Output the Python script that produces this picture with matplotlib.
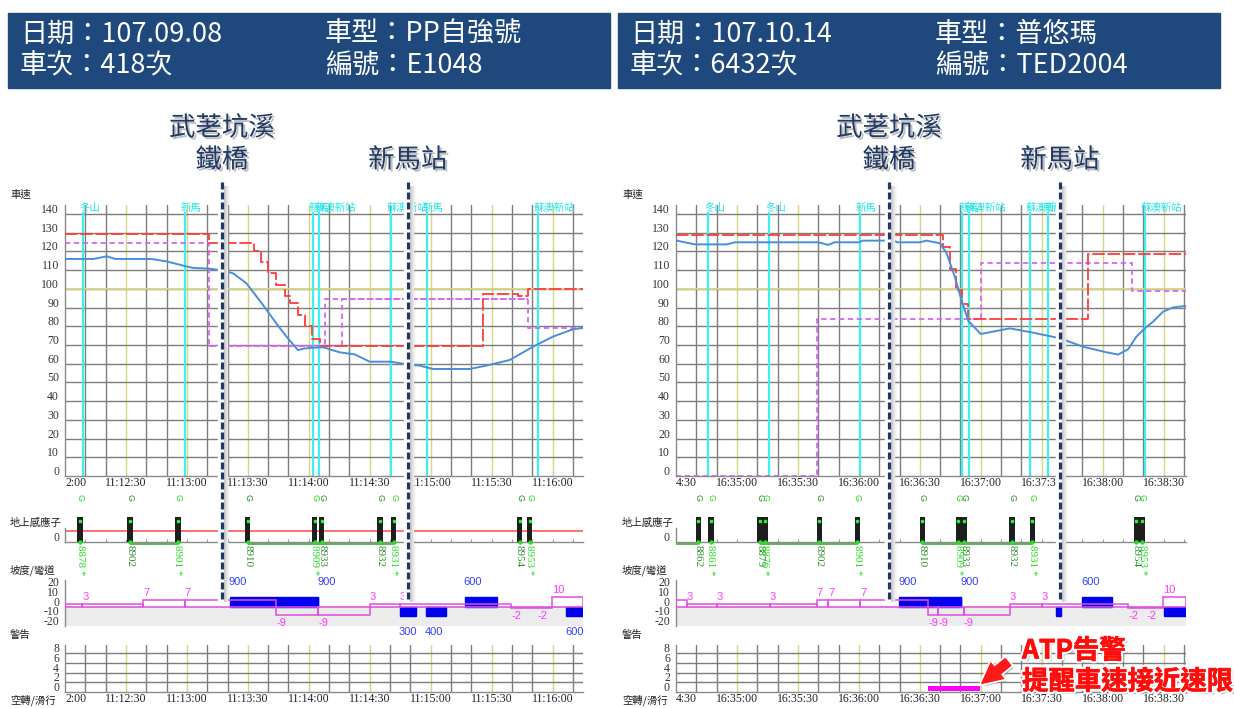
import matplotlib
matplotlib.use("Agg")
import matplotlib.pyplot as plt
import matplotlib.patheffects as pe
from matplotlib.patches import Rectangle
from matplotlib.transforms import ScaledTranslation

plt.rcParams["font.family"] = ["Noto Sans CJK TC", "DejaVu Sans"]
plt.rcParams["lines.scale_dashes"] = False

# ---------------- left record : 107.09.08 / 418次 ----------------
head_L = ["日期：107.09.08", "車次：418次", "車型：PP自強號", "編號：E1048"]
clock_L = ["2:00", "11:12:30", "11:13:00", "11:13:30", "11:14:00",
           "11:14:30", "11:15:00", "11:15:30", "11:16:00"]
span_L = 255
speed_t_L = [0, 14, 20.6, 24.8, 42.6, 50, 59, 63, 71.3, 77, 82.8, 89.3, 97.5, 104,
             109, 114.7, 118, 125.4, 127.9, 130.3, 135.3, 142.6, 150, 160, 169.7,
             174.6, 181.2, 199.2, 207.4, 218.9, 230.4, 240.2, 250, 254.6]
speed_v_L = [116, 116, 117.4, 116, 116, 114.7, 112.2, 111.2, 110.8, 110, 108.3, 103,
             91.4, 81.6, 74.5, 67.3, 68.2, 68.8, 68.6, 67.7, 66.1, 65, 61.1, 61.1,
             59.5, 59, 57.2, 57.2, 59, 62, 69.1, 74.5, 78.4, 79.1]
limit_t_L = [0, 70.8, 93, 96.7, 100.1, 104.1, 108.2, 110.7, 114.8, 118.1, 121.7,
             125.4, 205.8, 223, 227.8, 255]
limit_v_L = [129.5, 124.4, 120.3, 114.6, 108.3, 102.3, 96.2, 92.3, 86, 80.2, 73.2,
             69.5, 97.3, 96.2, 99.8, 99.8]
target_t_L = [0, 70.8, 127.9, 227.9, 255]
target_v_L = [124.4, 69.5, 94.4, 79.1, 79.1]
target2_t_L = [70.8, 136.6, 227.9]
target2_v_L = [69.5, 94.4, 94.4]
ref_L = 100
stn_t_L = [8.9, 59, 122, 125, 160.4, 178.1, 232.7]
stn_n_L = ["冬山", "新馬", "新馬", "蘇澳新站", "蘇澳新站", "新馬", "蘇澳新站"]
post_t_L = [7.4, 32, 55.6, 90, 123, 126.4, 155, 161.8, 223.8, 228.7]
post_n_L = ["8878 *", "8902", "8901 *", "8910", "8909 *", "8933", "8932",
            "8931 *", "8954", "8953 *"]
link_a_L = [32, 90]
link_b_L = [55.6, 161.8]
post_red_L = 11.3
grade_t_L = [0, 8.5, 38.5, 59, 104.1, 124.6, 150, 164.8, 219.7, 232.8, 239.7]
grade_v_L = [3, 3, 7, 7, -9, -9, 3, 3, -2, -2, 10]
curve_a_L = [81.2, 124.6, 164.8, 177.6, 196.8, 246.8]
curve_b_L = [124.6, 124.6, 172.7, 187.4, 212.6, 255]
curve_r_L = ["900", "900", "300", "400", "600", "600"]
curve_s_L = [1, 1, -1, -1, 1, -1]
warn_a_L = []
warn_b_L = []
mark_t_L = [77.2, 168.7]

# ---------------- right record : 107.10.14 / 6432次 ----------------
head_R = ["日期：107.10.14", "車次：6432次", "車型：普悠瑪", "編號：TED2004"]
clock_R = ["4:30", "16:35:00", "16:35:30", "16:36:00", "16:36:30",
           "16:37:00", "16:37:30", "16:38:00", "16:38:30"]
span_R = 251
speed_t_R = [0.3, 9.3, 24.9, 29, 70, 74.9, 78, 89.7, 92, 107, 109, 120, 123.3,
             129.9, 133.2, 137.2, 140.5, 143.8, 150, 164.3, 175.8, 189, 200.3,
             211.9, 217.6, 222.5, 226.6, 230.7, 234.8, 239.7, 244.6, 251]
speed_v_R = [125.8, 123.8, 123.8, 124.9, 124.9, 123.5, 124.9, 124.9, 125.8, 125.8,
             124.9, 124.9, 125.8, 124.4, 119, 106.5, 94.1, 83, 75.9, 78.9, 76.6,
             73.6, 69.1, 66.1, 64.9, 67.7, 74.5, 78.9, 82.5, 87.8, 90.1, 90.9]
limit_t_R = [0, 131.5, 134.8, 137.7, 141, 143.8, 202.8, 251]
limit_v_R = [128.8, 122.6, 110.6, 99.4, 91.9, 83.9, 118.7, 118.7]
target_t_R = [0, 69.2, 150, 224.4, 251]
target_v_R = [0, 83.9, 114, 98.9, 98.9]
target2_t_R = []
target2_v_R = []
ref_R = 100
stn_t_R = [15.9, 45.9, 90.5, 140.8, 144.1, 174.1, 183.1, 230.7]
stn_n_R = ["冬山", "冬山", "新馬", "新馬", "蘇澳新站", "蘇澳新站", "新馬", "蘇澳新站"]
post_t_R = [11, 17.2, 41.3, 43.8, 70.5, 89.2, 121.2, 138.9, 141.7, 165.4, 175.3,
            226.6, 229.4]
post_n_R = ["8862", "8861 *", "8879", "8876 *", "8902", "8901 *", "8910", "8909 *",
            "8933", "8932", "8931 *", "8954", "8953 *"]
link_a_R = [0, 41.3, 121.2]
link_b_R = [11, 89.2, 175.3]
post_red_R = None
grade_t_R = [0, 5.2, 20, 46.2, 69.2, 74.9, 90.8, 124.1, 129, 141.7, 164.3, 179.9,
             222.5, 231.5, 239.7]
grade_v_R = [7, 3, 3, 3, 7, 7, 7, -9, -9, -9, 3, 3, -2, -2, 10]
curve_a_R = [109.8, 140.5, 186.9, 200, 240]
curve_b_R = [140.5, 140.5, 189.7, 214.6, 251]
curve_r_R = ["900", "900", "", "600", ""]
curve_s_R = [1, 1, -1, 1, -1]
warn_a_R = [124]
warn_b_R = [149.5]
mark_t_R = [104.8, 188.9]

mark_txt = [["武荖坑溪", "鐵橋"], ["新馬站"]]
atp_txt = ["ATP告警", "提醒車速接近速限"]

W, H = 1234, 708
GRID = "#7d7d7d"
YEL = "#d8d680"
CYAN = "#3ff0f0"
SERIF = ["Liberation Serif", "DejaVu Serif"]
SANS = ["Liberation Sans", "DejaVu Sans"]
NAVY = "#1f3864"

fig = plt.figure(figsize=(W / 100, H / 100), dpi=100)
over = fig.add_axes([0, 0, 1, 1], zorder=20)
over.set_xlim(0, W)
over.set_ylim(H, 0)
over.axis("off")
over.patch.set_visible(False)


def shift(dx, dy):
    return ScaledTranslation(dx / 100, dy / 100, fig.dpi_scale_trans)


def px_axes(x0, y0, x1, y1):
    return fig.add_axes([x0 / W, 1 - y1 / H, (x1 - x0) / W, (y1 - y0) / H])


def frame(ax, left=True, bottom=True):
    for s in ["top", "right"]:
        ax.spines[s].set_visible(False)
    ax.spines["left"].set_visible(left)
    ax.spines["bottom"].set_visible(bottom)
    for s in ["left", "bottom"]:
        ax.spines[s].set_color("#8a8a8a")
        ax.spines[s].set_linewidth(1.0)
    ax.set_xticks([])
    ax.set_yticks([])


def vgrid(ax, span):
    for t in range(10, span + 1, 10):
        ax.axvline(t, color=YEL if t % 30 == 0 else GRID, lw=1.0, zorder=1)


def ylabels(ax, values):
    tr = ax.get_yaxis_transform() + shift(-6, 4)
    for v in values:
        ax.text(0, v, str(v), transform=tr, ha="right", va="center",
                fontsize=8.5, family=SERIF, color="#333333")


def xlabels(ax, labels):
    tr = ax.get_xaxis_transform() + shift(0, -7)
    for i, lab in enumerate(labels):
        ax.text(30 * i, 0, lab, transform=tr, ha="left" if i == 0 else "center",
                va="center", fontsize=8.5, family=SERIF, color="#222222")


def draw_panel(p, x0, x1, bx0, bx1, lx):
    span = p["span"]

    # header box
    over.add_patch(Rectangle((bx0, 13), bx1 - bx0, 75, color="#1f497d", zorder=1))
    for i, txt in enumerate(p["head"]):
        over.text(bx0 + 12 + 305 * (i // 2), 34 + 32 * (i % 2), txt, color="white",
                  fontsize=19.5, fontweight="light", va="center", ha="left",
                  zorder=2)

    # row titles
    for y, txt in [(195, "車速"), (523, "地上感應子"), (570, "坡度/彎道"),
                   (635, "警告"), (700, "空轉/滑行")]:
        over.text(lx, y, txt, fontsize=7.5, va="center", ha="left", color="#222222")

    # speed panel
    ax = px_axes(x0, 204.7, x1, 476)
    ax.set_xlim(0, span)
    ax.set_ylim(0, 145)
    frame(ax)
    vgrid(ax, span)
    for v in range(10, 150, 10):
        ax.axhline(v, color=GRID, lw=1.0, zorder=1)
    ax.axhline(p["ref"], color=YEL, lw=1.3, zorder=1.5)
    ax.vlines(p["stn_t"], 0, 141, color=CYAN, lw=1.6, zorder=2)
    for t, n in zip(p["stn_t"], p["stn_n"]):
        ax.text(t, 143.3, n, color="#24e4e4", fontsize=7.5, ha="left", va="center",
                transform=ax.transData + shift(-4, 0), clip_on=False, zorder=2)
    ax.step(p["target_t"], p["target_v"], where="post", color="#d766f5", lw=1.3,
            dashes=(3.8, 2.6), zorder=3)
    if p["target2_t"]:
        ax.step(p["target2_t"], p["target2_v"], where="post", color="#d766f5",
                lw=1.3, dashes=(3.8, 2.6), zorder=3)
    ax.step(p["limit_t"], p["limit_v"], where="post", color="#ff3c3c", lw=1.3,
            dashes=(9, 2), zorder=3.5)
    ax.plot(p["speed_t"], p["speed_v"], color="#4a8edb", lw=1.4, zorder=4)
    ylabels(ax, range(0, 141, 10))
    xlabels(ax, p["clock"])

    # ground transponders
    sx = px_axes(x0, 505, x1, 542)
    sx.set_xlim(0, span)
    sx.set_ylim(0, 37)
    frame(sx)
    sx.spines["left"].set_bounds(0, 14)
    sx.set_xticks(range(10, span + 1, 10))
    sx.tick_params(axis="x", direction="in", length=2.5, color="#999999",
                   labelbottom=False)
    if p["post_red"] is not None:
        sx.axhline(p["post_red"], color="#ff4a4a", lw=1.1, zorder=1)
    sx.hlines([-2.3] * len(p["link_a"]), p["link_a"], p["link_b"], color="#4fae45",
              lw=1.3, clip_on=False, zorder=2)
    sx.bar(p["post_t"], 25, width=2.6, color="#1e1e1e", zorder=3)
    sx.plot(p["post_t"], [21] * len(p["post_t"]), "s", color="#2cf02c", ms=2.0,
            zorder=4)
    sx.plot(p["post_t"], [0] * len(p["post_t"]), "o", color="#2cdc2c", ms=2.2,
            zorder=4, clip_on=False)
    for t, n in zip(p["post_t"], p["post_n"]):
        col = "#22dd22" if "*" in n else "#2a902a"
        sx.text(t, 45, "G", rotation=-90, color=col, fontsize=6.5, ha="center",
                va="center", clip_on=False, family=SANS)
        sx.text(t, -3, n, rotation=-90, color=col, fontsize=8, ha="center",
                va="top", clip_on=False, family=SERIF)
    ylabels(sx, [0])

    # gradient / curve panel
    gx = px_axes(x0, 580, x1, 626)
    gx.set_xlim(0, span)
    gx.set_ylim(-20.3, 27.6)
    frame(gx, bottom=False)
    gx.axhspan(-20.3, 0, color="#ececec", zorder=0)
    for a, b, r, s in zip(p["curve_a"], p["curve_b"], p["curve_r"], p["curve_s"]):
        gx.add_patch(Rectangle((a, 0), b - a, 10 * s, color="#0000ee", zorder=2))
        if r:
            y, dy = (1, -2) if s > 0 else (0, -6)
            gx.text(a, y, r, transform=gx.get_xaxis_transform() + shift(-1, dy),
                    ha="left", va="center", color="#3340ff", fontsize=8,
                    family=SANS, clip_on=False)
    ends = p["grade_t"][1:] + [span]
    for a, b, v in zip(p["grade_t"], ends, p["grade_v"]):
        gx.add_patch(Rectangle((a, 0), b - a, v, fill=False, edgecolor="#e04ee0",
                               lw=1.1, zorder=3))
        if a > 0:
            gx.annotate(str(v), (a, v), xytext=(0, 1.5 if v > 0 else -2),
                        textcoords="offset points", ha="left",
                        va="bottom" if v > 0 else "top", color="#ff3cff",
                        fontsize=8, family=SANS, annotation_clip=False)
    ylabels(gx, [20, 10, 0, -10, -20])

    # warning panel
    wx = px_axes(x0, 645, x1, 691.7)
    wx.set_xlim(0, span)
    wx.set_ylim(0, 9.73)
    frame(wx)
    vgrid(wx, span)
    for v in [2, 4, 6, 8]:
        wx.axhline(v, color=GRID, lw=1.0, zorder=1)
    for a, b in zip(p["warn_a"], p["warn_b"]):
        wx.bar(a, 1.1, width=b - a, bottom=0.15, align="edge", color="#ff00ff",
               zorder=5)
    ylabels(wx, [0, 2, 4, 6, 8])
    xlabels(wx, p["clock"])

    # bridge / station markers
    for t, lines in zip(p["mark_t"], mark_txt):
        x = ax.transData.transform((t, 0))[0]
        over.add_patch(Rectangle((x - 4, 188), 9, 412, color="white", zorder=3))
        for k, a in enumerate([0.30, 0.24, 0.18, 0.12, 0.07, 0.04]):
            over.plot([x + 2 + k, x + 2 + k], [186, 601], color="#555555",
                      alpha=a, lw=0.75, zorder=4)
        over.plot([x, x], [182, 600], color=NAVY, lw=2.3, dashes=(5, 2.2),
                  zorder=5)
        for k, txt in enumerate(reversed(lines)):
            over.text(x, 160 - 32 * k, txt, color=NAVY, fontsize=19, ha="center",
                      va="center", zorder=6,
                      path_effects=[pe.SimplePatchShadow(offset=(1.5, -1.5),
                                                         shadow_rgbFace="#888888",
                                                         alpha=0.55),
                                    pe.Normal()])
    return ax, wx


left = dict(head=head_L, clock=clock_L, span=span_L, speed_t=speed_t_L,
            speed_v=speed_v_L, limit_t=limit_t_L, limit_v=limit_v_L,
            target_t=target_t_L, target_v=target_v_L, target2_t=target2_t_L,
            target2_v=target2_v_L, ref=ref_L, stn_t=stn_t_L, stn_n=stn_n_L,
            post_t=post_t_L, post_n=post_n_L, link_a=link_a_L, link_b=link_b_L,
            post_red=post_red_L, grade_t=grade_t_L, grade_v=grade_v_L,
            curve_a=curve_a_L, curve_b=curve_b_L, curve_r=curve_r_L,
            curve_s=curve_s_L, warn_a=warn_a_L, warn_b=warn_b_L, mark_t=mark_t_L)
right = dict(head=head_R, clock=clock_R, span=span_R, speed_t=speed_t_R,
             speed_v=speed_v_R, limit_t=limit_t_R, limit_v=limit_v_R,
             target_t=target_t_R, target_v=target_v_R, target2_t=target2_t_R,
             target2_v=target2_v_R, ref=ref_R, stn_t=stn_t_R, stn_n=stn_n_R,
             post_t=post_t_R, post_n=post_n_R, link_a=link_a_R, link_b=link_b_R,
             post_red=post_red_R, grade_t=grade_t_R, grade_v=grade_v_R,
             curve_a=curve_a_R, curve_b=curve_b_R, curve_r=curve_r_R,
             curve_s=curve_s_R, warn_a=warn_a_R, warn_b=warn_b_R, mark_t=mark_t_R)

draw_panel(left, 65, 583, 8, 610, 10)
ax_r, wx_r = draw_panel(right, 676, 1186, 618, 1220, 622)

# ATP warning callout
glow = [pe.SimplePatchShadow(offset=(2, -2), shadow_rgbFace="#777777", alpha=0.45),
        pe.Stroke(linewidth=3.5, foreground="white"),
        pe.Stroke(linewidth=0.5, foreground="#ff0d0d"), pe.Normal()]
over.text(1022, 651, atp_txt[0], color="#ff0d0d", fontsize=19, fontweight="bold",
          ha="left", va="center", path_effects=glow, zorder=8)
over.text(1022, 682, atp_txt[1], color="#ff0d0d", fontsize=19, fontweight="bold",
          ha="left", va="center", path_effects=glow, zorder=8)
tip = wx_r.transData.transform((warn_b_R[0], 1.3))
arr = over.annotate("", xy=(tip[0] + 2, H - tip[1] - 2), xytext=(1008, 662),
                    arrowprops=dict(arrowstyle="simple,head_length=0.9,head_width=0.9,"
                                               "tail_width=0.4",
                                    color="#ff1a1a", mutation_scale=16,
                                    shrinkA=0, shrinkB=0), zorder=8)
arr.arrow_patch.set_path_effects(glow[:2] + [pe.Normal()])

fig.savefig("out.png", dpi=100, facecolor="white")
